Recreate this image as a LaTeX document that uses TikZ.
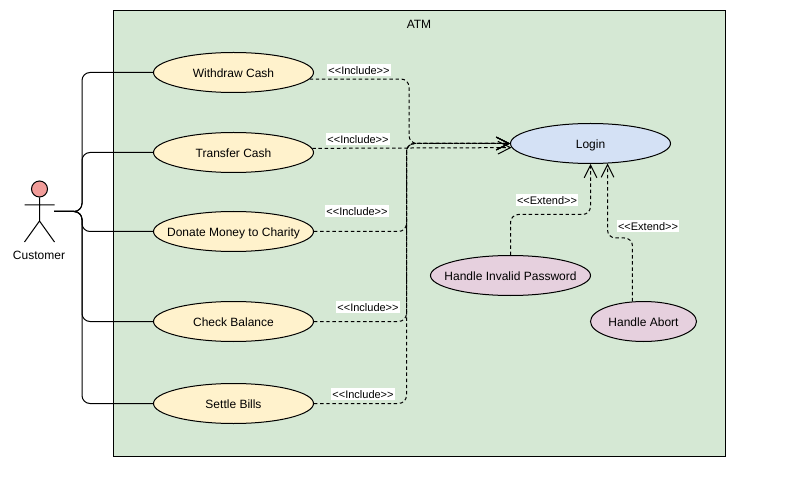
\documentclass[tikz,border=0pt]{standalone}
\usepackage{fontspec}
\setmainfont{Liberation Sans}
\usetikzlibrary{arrows.meta, shapes.geometric}
\definecolor{SystemGreen}{HTML}{D5E8D4}
\definecolor{CaseYellow}{HTML}{FFF2CC}
\definecolor{LoginBlue}{HTML}{D4E1F5}
\definecolor{ExtendPink}{HTML}{E6D0DE}
\definecolor{ActorRed}{HTML}{F19C99}

\begin{document}
\begin{tikzpicture}[
      x=0.75pt, y=-0.75pt,
      line width=0.75pt,
      every node/.style={align=center, font=\fontsize{9}{11}\selectfont, text height=8.5pt, text depth=1pt},
      usecase/.style={draw, ellipse, inner xsep=-20pt, inner ysep=0pt, minimum width=120pt, minimum height=30pt},
      caseyellow/.style={usecase, fill=CaseYellow},
      casepink/.style={usecase, fill=ExtendPink},
      assoc/.style={rounded corners=6pt},
      dep/.style={dash pattern=on 2.6pt off 2pt, rounded corners=6pt, -{Straight Barb[length=9.5pt,width=9.5pt]}},
      deplabel/.style={fill=white, inner xsep=0.75pt, inner ysep=0pt, text height=7.5pt, text depth=1pt, font=\fontsize{8.25}{10}\selectfont}
    ]
      \useasboundingbox (0,0) rectangle (799,477);

      \node[draw, fill=SystemGreen, minimum width=459pt, minimum height=334.5pt, inner sep=0pt] (atm) at (419.5,233.5) {};
      \node (atmtitle) at (419,24) {ATM};

      \node[caseyellow] (withdraw) at (233.5,72.5) {Withdraw Cash};
      \node[caseyellow] (transfer) at (233.5,152.5) {Transfer Cash};
      \node[caseyellow] (donate) at (233.5,231.5) {Donate Money to Charity};
      \node[caseyellow] (balance) at (233.5,321.5) {Check Balance};
      \node[caseyellow] (bills) at (233.5,403.5) {Settle Bills};
      \node[usecase, fill=LoginBlue] (login) at (590.5,143.5) {Login};
      \node[casepink] (invalid) at (510.5,275.5) {Handle Invalid Password};
      \node[casepink, minimum width=79.5pt] (abort) at (643.5,321.5) {Handle Abort};

      % Actor
      \node[draw, circle, fill=ActorRed, inner sep=0pt, minimum size=12pt] (head) at (39.5,189) {};
      \coordinate (hip) at (39.5,221);
      \coordinate (armleft) at (24.5,205);
      \coordinate (armright) at (54.5,205);
      \coordinate (legleft) at (24.5,242);
      \coordinate (legright) at (54.5,242);
      \draw (head) -- (hip) (armleft) -- (armright) (legleft) -- (hip) -- (legright);
      \node (customerlabel) at (39,255) {Customer};

      % Associations
      \coordinate (customer) at (54,211.5);
      \coordinate (bus) at (82,211.5);
      \foreach \usecase in {withdraw, transfer, donate, balance, bills}
        \draw[assoc] (customer) -- (bus) |- (\usecase);

      % Include
      \coordinate (turnright) at (409,79);
      \coordinate (turnleft) at (406.5,143.5);
      \draw[dep] (withdraw.-5) -- (turnright) |- (login.west);
      \draw[dep] (transfer.3.2) -- (login.-177);
      \foreach \usecase in {donate, balance, bills}
        \draw[dep] (\usecase) -| (turnleft) -- (login.west);

      % Extend
      \coordinate (extendleft) at (590.5,164);
      \coordinate (extendright) at (607.5,163.5);
      \coordinate (abortbend) at (632.5,238);
      \draw[dep] (invalid.north) |- (590.5,214.5) -- (extendleft);
      \draw[dep] (abort.119.4) -- (abortbend) -| (extendright);

      % Labels
      \node[deplabel] (include1) at (359,70) {{<}{<}Include{>}{>}};
      \node[deplabel] (include2) at (358,139) {{<}{<}Include{>}{>}};
      \node[deplabel] (include3) at (357,211) {{<}{<}Include{>}{>}};
      \node[deplabel] (include4) at (368,307) {{<}{<}Include{>}{>}};
      \node[deplabel] (include5) at (363,394) {{<}{<}Include{>}{>}};
      \node[deplabel] (extend1) at (547,200) {{<}{<}Extend{>}{>}};
      \node[deplabel] (extend2) at (648,226) {{<}{<}Extend{>}{>}};
    \end{tikzpicture}
\end{document}
